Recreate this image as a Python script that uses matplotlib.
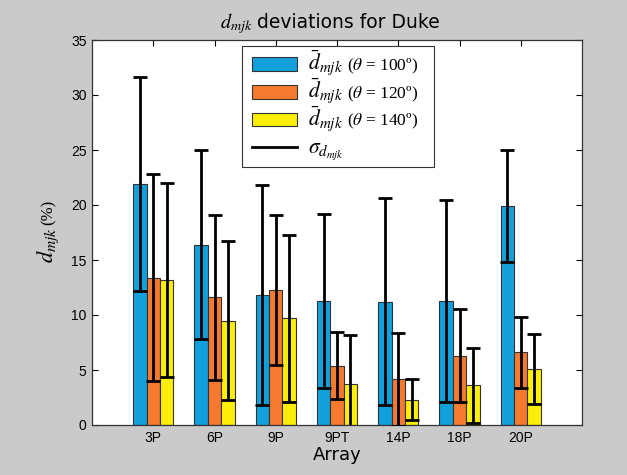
import matplotlib
matplotlib.use("Agg")
import matplotlib.pyplot as plt
import numpy as np
from matplotlib.lines import Line2D
from matplotlib.patches import Patch, Rectangle
from matplotlib.text import Text

categories = ["3P", "6P", "9P", "9PT", "14P", "18P", "20P"]
mean_100 = [21.9, 16.4, 11.8, 11.3, 11.2, 11.3, 19.9]
std_100 = [9.7, 8.6, 10.0, 7.9, 9.4, 9.2, 5.1]
mean_120 = [13.4, 11.6, 12.3, 5.4, 4.15, 6.3, 6.6]
std_120 = [9.4, 7.5, 6.8, 3.05, 4.2, 4.25, 3.2]
mean_140 = [13.2, 9.5, 9.7, 3.7, 2.3, 3.6, 5.1]
std_140 = [8.8, 7.2, 7.6, 4.5, 1.85, 3.4, 3.2]
yticks = [0, 5, 10, 15, 20, 25, 30, 35]
legend_math = [r"$\bar{d}_{mjk}$", r"$\bar{d}_{mjk}$", r"$\bar{d}_{mjk}$", r"$\sigma_{d_{mjk}}$"]
legend_text = [r"($\theta$ = 100º)  ", r"($\theta$ = 120º)  ", r"($\theta$ = 140º)  ", ""]

plt.rcParams["mathtext.fontset"] = "stix"
plt.rcParams["font.family"] = ["Liberation Sans", "DejaVu Sans"]

W, H = 627, 475
bg = "#cacaca"
fig = plt.figure(figsize=(W / 100, H / 100), dpi=100, facecolor=bg)
ax = fig.add_axes([92 / W, 1 - 425 / H, 490 / W, 385 / H])
ax.set_facecolor("white")

x = np.arange(1, len(categories) + 1)
w = 0.22
colors = ["#12a0dc", "#f57a30", "#fbee08"]
series = [(mean_100, std_100), (mean_120, std_120), (mean_140, std_140)]
offsets = [-w, 0, w]
for (m, s), off, c in zip(series, offsets, colors):
    ax.bar(x + off, m, width=w, color=c, edgecolor="#333333", linewidth=0.8, zorder=2)
    ax.errorbar(x + off, m, yerr=s, fmt="none", ecolor="black", elinewidth=2,
                capsize=4.7, capthick=2, zorder=3)

ax.set_xlim(0, 8)
ax.set_ylim(0, 35)
ax.set_yticks(yticks)
ax.set_xticks(x)
ax.set_xticklabels(categories, fontsize=10)
ax.tick_params(axis="y", labelsize=10)
ax.tick_params(direction="in", top=True, right=True, length=4, width=0.8, pad=4)
for sp in ax.spines.values():
    sp.set_color("#333333")
    sp.set_linewidth(0.9)

ax.set_xlabel("Array", fontsize=13, family=["DejaVu Sans"], labelpad=1)

renderer = fig.canvas.get_renderer()


def measure(s, **kw):
    t = fig.text(0, 0, s, **kw)
    wpx = t.get_window_extent(renderer).width
    t.remove()
    return wpx


# title: larger math part + sans text
t_math = dict(fontsize=14.5)
t_txt = dict(fontsize=13.5, family=["DejaVu Sans"])
w1 = measure(r"$d_{mjk}$", **t_math)
w2 = measure("deviations for Duke", **t_txt)
gap = 4
cx, base = 330, H - 28
x0 = cx - (w1 + gap + w2) / 2
fig.text(x0 / W, base / H, r"$d_{mjk}$", ha="left", va="baseline", **t_math)
fig.text((x0 + w1 + gap) / W, base / H, "deviations for Duke", ha="left", va="baseline", **t_txt)

# y label: math part + serif (%)
y_math = dict(fontsize=16)
y_txt = dict(fontsize=12, family=["Liberation Serif"])
v1 = measure(r"$d_{mjk}$", **y_math)
v2 = measure("(%)", **y_txt)
ycen, bx = H - 231, 53
y0 = ycen - (v1 + 2 + v2) / 2
fig.text(bx / W, y0 / H, r"$d_{mjk}$", rotation=90, rotation_mode="anchor",
         ha="left", va="baseline", **y_math)
fig.text(bx / W, (y0 + v1 + 2) / H, "(%)", rotation=90, rotation_mode="anchor",
         ha="left", va="baseline", **y_txt)


class MathHandle:
    def __init__(self, kind, color, math):
        self.kind, self.color, self.math = kind, color, math

    def legend_artist(self, legend, orig_handle, fontsize, handlebox):
        xd, yd = handlebox.xdescent, handlebox.ydescent
        hh = handlebox.height
        pw = 32.4
        if self.kind == "patch":
            art = Rectangle((-xd, -yd), pw, hh, facecolor=self.color,
                            edgecolor="#333333", linewidth=0.8)
        else:
            art = Line2D([-xd, -xd + pw], [-yd + hh / 2] * 2, color="black", lw=2)
        handlebox.add_artist(art)
        txt = Text(-xd + 40.3, 0, self.math, fontsize=15.5, ha="left", va="baseline")
        handlebox.add_artist(txt)
        return art


handles = [Patch(facecolor=c) for c in colors] + [Line2D([0], [0], color="black")]
hmap = {h: MathHandle("patch" if i < 3 else "line", colors[i] if i < 3 else "k", legend_math[i])
        for i, h in enumerate(handles)}
leg = fig.legend(handles, legend_text, handler_map=hmap, loc="upper left",
                 bbox_to_anchor=(242 / W, 1 - 46 / H),
                 prop={"family": "Liberation Serif", "size": 12.5}, fancybox=False,
                 framealpha=1, edgecolor="#333333", handlelength=5.2, handleheight=0.8,
                 labelspacing=0.5, borderpad=0.6, handletextpad=0.25, borderaxespad=0)
leg.get_frame().set_linewidth(0.8)

fig.savefig("out.png", dpi=100, facecolor=bg)
